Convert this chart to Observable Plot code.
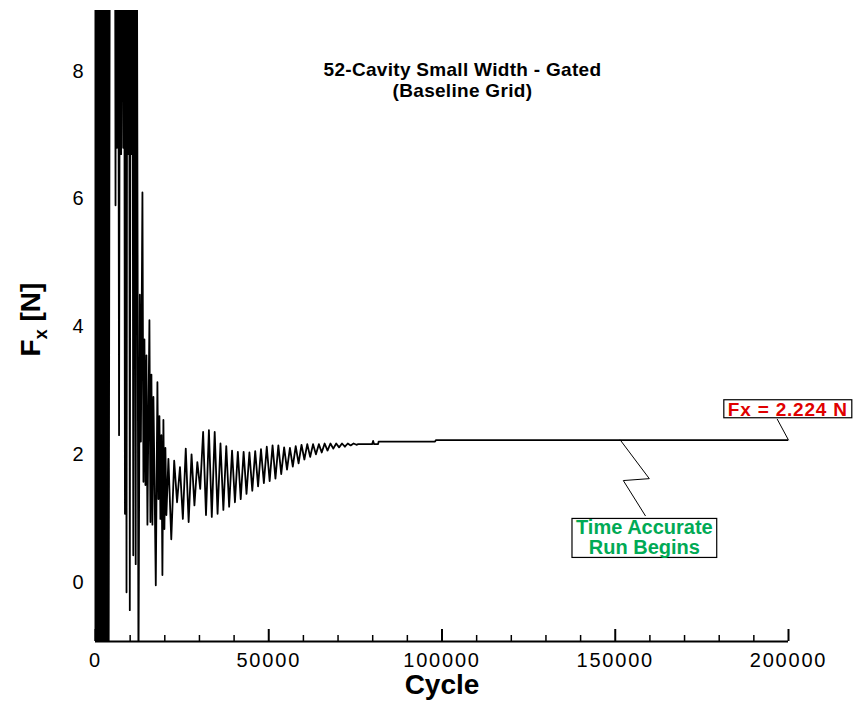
<!DOCTYPE html>
<html><head><meta charset="utf-8">
<script src="https://cdn.jsdelivr.net/npm/d3@7"></script>
<script src="https://cdn.jsdelivr.net/npm/@observablehq/plot@0.6"></script>
<style>
html,body{margin:0;padding:0;background:#fff;}
#chart{width:853px;height:703px;position:relative;}
</style></head><body><div id="chart"></div>
<script>
// ---- Data ----
const cycle = [
  0,150,300,450,600,750,900,1050,1200,1350,1500,1650,1800,1950,2100,2250,2400,2550,2700,2850,3000,3150,3300,3450,3600,
  3750,4200,4900,5600,5780,5950,6200,6500,6800,7100,7400,7700,8000,8250,8500,8700,8950,9200,9450,9700,9900,
  10150,10400,10650,10900,11150,11350,11600,11850,12400,12800,13100,13545,13834,14122,14410,14698,14986,15275,
  15563,15851,16139,16427,16716,17004,17400,17868,18157,18445,18733,19021,19309,19598,19886,20174,20462,
  21040,21870,22710,23540,24380,25210,26050,26880,27720,28550,29390,30220,31060,31890,32730,33560,34400,35230,
  36070,36900,37740,38570,39410,40240,41080,41910,42750,43580,44420,45250,46090,46920,47760,48590,49430,50260,
  51100,51930,52770,53600,54440,55270,56110,56940,57780,58610,59450,60280,61120,61950,62790,63620,64460,65290,
  66130,66960,67800,68630,69470,70300,71140,71970,72810,73640,74480,75310,75800,79830,80120,80410,81560,81700,
  97990,98280,200000
];
const fx = [
  13,-3,14,-2.5,12,-4,15,-3,13,-2,14,-3.5,12.5,-3,14,-2.5,13,-3,15,-4,12,-2.5,13,-3,12,
  -3,13,14,12.5,5.9,13,6.8,13,2.3,13,6.7,13,6.8,12,1.07,12,-0.16,13,6.7,13,-0.44,
  13,6.7,12,0.42,13,6.8,0.28,13,-1.5,4.5,2.2,6.1,1.57,3.8,1.52,3.55,0.9,2.6,
  4.1,0.94,3.25,0.9,2.9,1.7,-0.05,3.13,1.3,2.6,0.99,2.3,0.11,2.54,0.83,2.1,1.05,
  1.93,0.67,1.90,1.25,1.80,0.99,2.09,0.94,2.00,1.20,1.88,1.46,2.35,1.05,2.38,1.02,2.35,1.07,
  2.17,1.13,2.13,1.18,2.06,1.25,2.04,1.30,2.04,1.38,2.03,1.43,2.05,1.50,2.08,1.55,2.12,1.58,
  2.14,1.62,2.14,1.69,2.11,1.76,2.10,1.81,2.13,1.86,2.15,1.92,2.16,1.96,2.16,2.00,2.16,2.03,
  2.17,2.06,2.17,2.09,2.17,2.11,2.17,2.12,2.17,2.14,2.17,2.15,2.16,2.16,2.21,2.16,2.16,2.20,
  2.20,2.224,2.224
];
const xMajorTicks = [0, 50000, 100000, 150000, 200000];
const xMinorTicks = [10000,20000,30000,40000,60000,70000,80000,90000,110000,120000,130000,140000,160000,170000,180000,190000];
const yTicks = [0, 2, 4, 6, 8];
const xDomain = [0, 200000];
const yDomain = [-0.93, 8.95];

const titleText = "52-Cavity Small Width - Gated\n(Baseline Grid)";
const titleAt = {cycle: 105900, fx: 7.86};
const finalLabel = "Fx = 2.224 N";
const finalLabelAt = {cycle: 199800, fx: 2.70};
const finalConnectorCycle = [196760, 200000];
const finalConnectorFx = [2.55, 2.224];
const runLabel = "Time Accurate\nRun Begins";
const runLabelAt = {cycle: 158400, fx: 0.69};
const runConnectorCycle = [151460, 159830, 152330, 158680];
const runConnectorFx = [2.224, 1.62, 1.59, 1.04];

const series = cycle.map((c, i) => ({cycle: c, fx: fx[i]}));
const finalConnector = finalConnectorCycle.map((c, i) => ({cycle: c, fx: finalConnectorFx[i]}));
const runConnector = runConnectorCycle.map((c, i) => ({cycle: c, fx: runConnectorFx[i]}));

const W = 853, H = 703, mL = 95, mR = 65, mT = 10, mB = 62;
const frameW = W - mL - mR, frameH = H - mT - mB;
const FONT = "'Liberation Sans', Arial, Helvetica, sans-serif";

const plot = Plot.plot({
  width: W, height: H,
  marginLeft: mL, marginRight: mR, marginTop: mT, marginBottom: mB,
  x: {domain: xDomain},
  y: {domain: yDomain},
  style: {fontFamily: FONT, fontSize: "20px", color: "#000", background: "#fff", overflow: "visible"},
  marks: [
    Plot.line(series, {x: "cycle", y: "fx", stroke: "#000", strokeWidth: 1.8, clip: true}),
    Plot.ruleY([yDomain[0]], {stroke: "#000", strokeWidth: 2}),
    Plot.ruleX([xDomain[0]], {stroke: "#000", strokeWidth: 2}),
    Plot.ruleX(xMajorTicks, {stroke: "#000", strokeWidth: 2, insetTop: frameH - 12}),
    Plot.ruleX(xMinorTicks, {stroke: "#000", strokeWidth: 1.5, insetTop: frameH - 6}),
    Plot.ruleY(yTicks, {stroke: "#000", strokeWidth: 2, insetRight: frameW - 14}),
    Plot.axisX({ticks: xMajorTicks, tickSize: 0, tickPadding: 11, tickFormat: d => String(d), label: null, fontSize: 20, fill: "#000"}),
    Plot.axisY({ticks: yTicks, tickSize: 0, tickPadding: 10, tickFormat: d => String(d), label: null, fontSize: 20, fill: "#000"}),
    Plot.text(["Cycle"], {frameAnchor: "bottom", dy: 52, fontSize: 28, fontWeight: "bold", fill: "#000"}),
    Plot.line(runConnector, {x: "cycle", y: "fx", stroke: "#000", strokeWidth: 1}),
    Plot.line(finalConnector, {x: "cycle", y: "fx", stroke: "#000", strokeWidth: 1}),
    Plot.text([titleText], {x: () => titleAt.cycle, y: () => titleAt.fx, text: d => d, fontSize: 19, fontWeight: "bold", lineHeight: 1.06, fill: "#000"}),
    Plot.text([runLabel], {x: () => runLabelAt.cycle, y: () => runLabelAt.fx, text: d => d, fontSize: 20, fontWeight: "bold", lineHeight: 1.0, fill: "#00aa55"}),
    Plot.text([finalLabel], {x: () => finalLabelAt.cycle, y: () => finalLabelAt.fx, text: d => d, fontSize: 19, fontWeight: "bold", fill: "#e00000"})
  ]
});
document.getElementById("chart").append(plot);

const svg = d3.select(plot);
svg.selectAll('g[aria-label="x-axis tick label"] text, g[aria-label="y-axis tick label"] text').attr("letter-spacing", "1.8px");
svg.selectAll("text").filter(function(){ return this.textContent.startsWith("52-Cavity"); }).attr("letter-spacing", "0.3px");
svg.selectAll("text").filter(function(){ return this.textContent.startsWith("Fx ="); }).attr("letter-spacing", "0.8px");

// boxes behind the annotations
const svgRect = plot.getBoundingClientRect();
function boxAround(startText, padL, padR, padT, padB) {
  const node = svg.selectAll("text").filter(function(){ return this.textContent.startsWith(startText); }).node();
  if (!node) return;
  const r = node.getBoundingClientRect();
  const g = node.parentNode;
  const rect = document.createElementNS("http://www.w3.org/2000/svg", "rect");
  rect.setAttribute("x", r.left - svgRect.left - padL);
  rect.setAttribute("y", r.top - svgRect.top - padT);
  rect.setAttribute("width", r.width + padL + padR);
  rect.setAttribute("height", r.height + padT + padB);
  rect.setAttribute("fill", "#fff");
  rect.setAttribute("stroke", "#000");
  rect.setAttribute("stroke-width", "1.2");
  g.parentNode.insertBefore(rect, g);
}
boxAround("Fx =", 4, 4, -1, -2);
boxAround("Time Accurate", 4, 4, -2, -1);

// y-axis label with subscript
const yl = svg.append("text")
  .attr("transform", `translate(40,${mT + frameH / 2 - 6}) rotate(-90)`)
  .attr("text-anchor", "middle")
  .attr("font-family", FONT)
  .attr("font-weight", "bold")
  .attr("font-size", 28)
  .attr("fill", "#000");
yl.append("tspan").text("F");
yl.append("tspan").attr("font-size", 18).attr("dy", 7).text("x");
yl.append("tspan").attr("dy", -7).text(" [N]");
</script>
</body></html>
